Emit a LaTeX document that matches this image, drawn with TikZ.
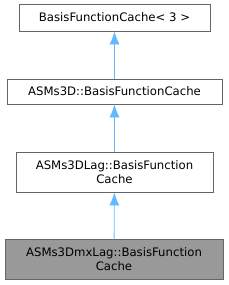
\documentclass[tikz,border=0pt]{standalone}
\usepackage{fontspec}
\setmainfont{DejaVu Sans}
\usetikzlibrary{arrows.meta,positioning}
\definecolor{Edge}{HTML}{666666}
\definecolor{Current}{HTML}{999999}
\definecolor{Inherit}{HTML}{63B8FF}
\tikzset{
  cls/.style={draw=Edge,fill=white,line width=.8pt,align=center,font=\fontsize{11.7}{14}\selectfont,inner sep=0pt},
  curcls/.style={cls,fill=Current},
  derive/.style={{Latex[length=13pt,width=10pt]}-,draw=Inherit,line width=.8pt}
}
\begin{document}
\begin{tikzpicture}[x=1pt,y=-1pt]
  \useasboundingbox (0,0) rectangle (229,285);
  \node[cls,minimum width=191pt,minimum height=27pt] (cache3) at (114.5,17.5) {BasisFunctionCache< 3 >};
  \node[cls,minimum width=215pt,minimum height=25pt] (asm3d) at (114.5,91.5) {ASMs3D::BasisFunctionCache};
  \node[cls,minimum width=197pt,minimum height=40pt] (asmlag) at (114.5,172) {ASMs3DLag::BasisFunction\\Cache};
  \node[curcls,minimum width=218pt,minimum height=40pt] (asmmx) at (114,259) {ASMs3DmxLag::BasisFunction\\Cache};
  \draw[derive] (cache3) -- (asm3d);
  \draw[derive] (asm3d) -- (asmlag);
  \draw[derive] (asmlag) -- (asmmx);
\end{tikzpicture}
\end{document}
